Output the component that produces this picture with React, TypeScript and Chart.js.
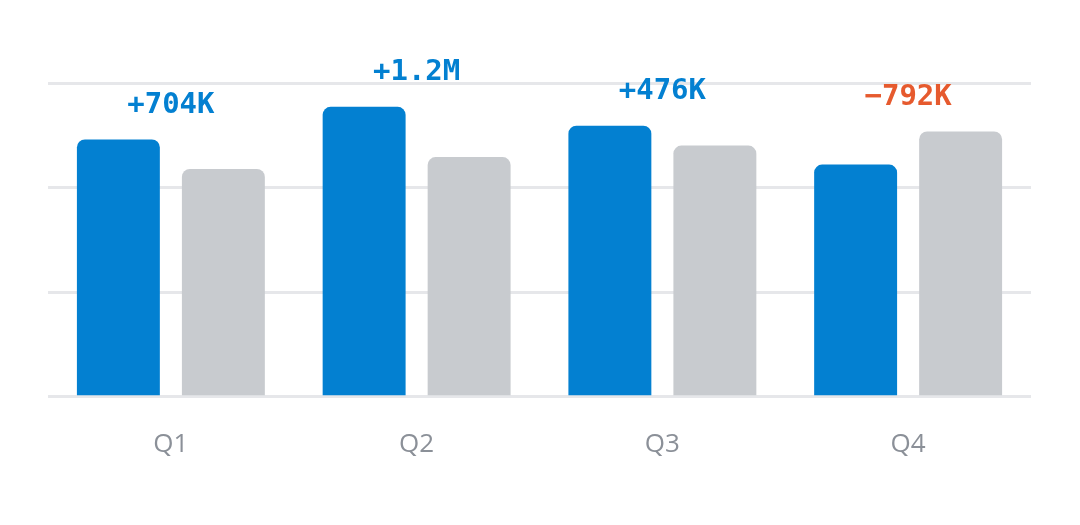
import { useEffect, useRef } from "react"
import { Chart, registerables } from "chart.js"

Chart.register(...registerables)

// Dados do gráfico (valores em milhões)
const quarters = ["Q1", "Q2", "Q3", "Q4"]
const actual = [6.15, 6.93, 6.48, 5.55]
const previous = [5.446, 5.73, 6.004, 6.342]
const deltaLabels = ["+704K", "+1.2M", "+476K", "−792K"]
const deltaPositive = [true, true, true, false]
const yTicks = [0, 2.5, 5, 7.5]

const BLUE = "#0380d1"
const GRAY = "#c8cbcf"
const RED = "#e65a2e"

// Plugin para desenhar a variação acima de cada grupo
const deltaPlugin = {
  id: "deltaLabels",
  afterDatasetsDraw(chart: Chart) {
    const ctx = chart.ctx
    const xScale = chart.scales.x
    const yScale = chart.scales.y
    ctx.save()
    ctx.font = "bold 29px 'DejaVu Sans Mono'"
    ctx.textAlign = "center"
    ctx.textBaseline = "middle"
    quarters.forEach((_, i) => {
      const x = xScale.getPixelForValue(i)
      const top = yScale.getPixelForValue(Math.max(actual[i], previous[i]))
      ctx.fillStyle = deltaPositive[i] ? BLUE : RED
      ctx.fillText(deltaLabels[i], x, top - 34)
    })
    ctx.restore()
  },
}

export default function App() {
  const chartRef = useRef<HTMLCanvasElement>(null)
  const chartInstance = useRef<Chart | null>(null)

  useEffect(() => {
    if (!chartRef.current) return

    if (chartInstance.current) {
      chartInstance.current.destroy()
    }

    const ctx = chartRef.current.getContext("2d")
    if (!ctx) return

    chartInstance.current = new Chart(ctx, {
      type: "bar",
      data: {
        labels: quarters,
        datasets: [
          {
            label: "Atual",
            data: actual,
            backgroundColor: BLUE,
            borderRadius: 8,
            borderSkipped: "bottom",
          },
          {
            label: "Anterior",
            data: previous,
            backgroundColor: GRAY,
            borderRadius: 8,
            borderSkipped: "bottom",
          },
        ],
      },
      options: {
        animation: false,
        responsive: true,
        maintainAspectRatio: false,
        datasets: {
          bar: {
            categoryPercentage: 0.8545,
            barPercentage: 0.79,
          },
        },
        layout: {
          padding: { left: 48, right: 49, top: 83, bottom: 33 },
        },
        plugins: {
          legend: { display: false },
          tooltip: { enabled: false },
        },
        scales: {
          x: {
            grid: { display: false, drawTicks: false },
            border: { display: false },
            ticks: {
              padding: 32,
              color: "#8b9098",
              font: { family: "'Open Sans'", size: 26 },
            },
          },
          y: {
            min: 0,
            max: 7.5,
            afterBuildTicks: (axis) => {
              axis.ticks = yTicks.map((v) => ({ value: v }))
            },
            grid: { color: "#e6e7ea", lineWidth: 3, drawTicks: false },
            border: { display: false },
            ticks: { display: false },
          },
        },
      },
      plugins: [deltaPlugin],
    })

    return () => {
      if (chartInstance.current) {
        chartInstance.current.destroy()
      }
    }
  }, [])

  return (
    <div style={{ position: "fixed", left: 0, top: 0, width: 1080, height: 525, background: "#fff" }}>
      <canvas ref={chartRef} />
    </div>
  )
}
